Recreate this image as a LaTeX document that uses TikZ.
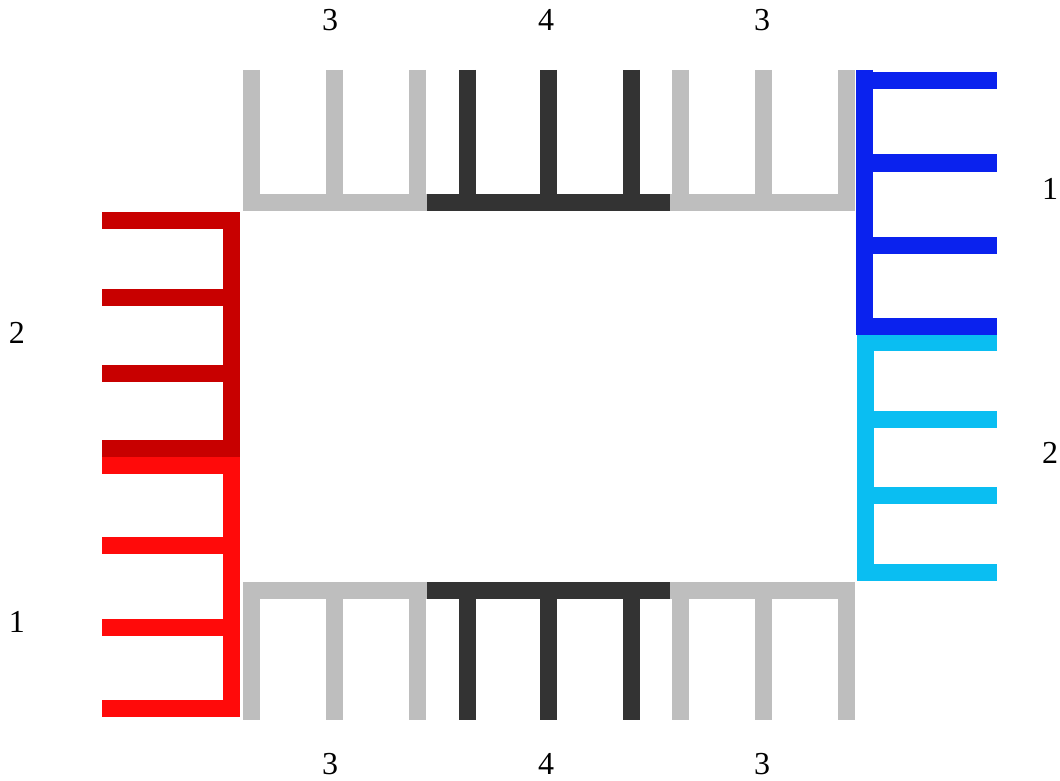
\documentclass[tikz,border=0pt]{standalone}
\usepackage{fontspec}
\setmainfont{Liberation Serif}
\usetikzlibrary{positioning}

\definecolor{combgray}{HTML}{BEBEBE}
\definecolor{combdark}{HTML}{333333}
\definecolor{combblue}{HTML}{0A22EE}
\definecolor{combcyan}{HTML}{0ABEF2}
\definecolor{combdred}{HTML}{C80000}
\definecolor{combred}{HTML}{FF0A0A}

\begin{document}
\begin{tikzpicture}[x=1pt, y=-1pt,
    comb/.style={line width=17pt, line join=miter},
    num/.style={font=\fontsize{32}{36}\selectfont, inner sep=0pt}]
            \useasboundingbox (0,0) rectangle (1060,781);

            % Top edge
            \draw[comb, combgray] (251,70) -- (251,202) -- (427,202);
            \foreach \x in {334,417} \draw[comb, combgray] (\x,70) -- (\x,202);
            \draw[comb, combdark] (427,202) -- (670,202);
            \foreach \x in {467,548,631} \draw[comb, combdark] (\x,70) -- (\x,202);
            \draw[comb, combgray] (670,202) -- (846,202) -- (846,70);
            \foreach \x in {680,763} \draw[comb, combgray] (\x,70) -- (\x,202);

            % Bottom edge
            \draw[comb, combgray] (427,590) -- (251,590) -- (251,720);
            \foreach \x in {334,417} \draw[comb, combgray] (\x,590) -- (\x,720);
            \draw[comb, combdark] (427,590) -- (670,590);
            \foreach \x in {467,548,631} \draw[comb, combdark] (\x,590) -- (\x,720);
            \draw[comb, combgray] (670,590) -- (846,590) -- (846,720);
            \foreach \x in {680,763} \draw[comb, combgray] (\x,590) -- (\x,720);

            % Right edge
            \draw[comb, combcyan] (997,342) -- (865,342) -- (865,572) -- (997,572);
            \foreach \y in {419,495} \draw[comb, combcyan] (865,\y) -- (997,\y);
            \draw[comb, combblue] (864,70) -- (864,326) -- (997,326);
            \foreach \y in {81,163,245} \draw[comb, combblue] (864,\y) -- (997,\y);

            % Left edge
            \draw[comb, combred] (102,465) -- (231,465) -- (231,708) -- (102,708);
            \foreach \y in {545,627} \draw[comb, combred] (102,\y) -- (231,\y);
            \draw[comb, combdred] (102,220) -- (231,220) -- (231,448) -- (102,448);
            \foreach \y in {297,373} \draw[comb, combdred] (102,\y) -- (231,\y);

            % Counts
            \node[num] (t1) at (330,20) {3};
            \node[num] (t2) at (546,20) {4};
            \node[num] (t3) at (762,20) {3};
            \node[num] (b1) at (330,764) {3};
            \node[num] (b2) at (546,764) {4};
            \node[num] (b3) at (762,764) {3};
            \node[num] (l2) at (17,333) {2};
            \node[num] (l1) at (17,622) {1};
            \node[num] (r1) at (1050,189) {1};
            \node[num] (r2) at (1050,453) {2};
        \end{tikzpicture}
\end{document}
